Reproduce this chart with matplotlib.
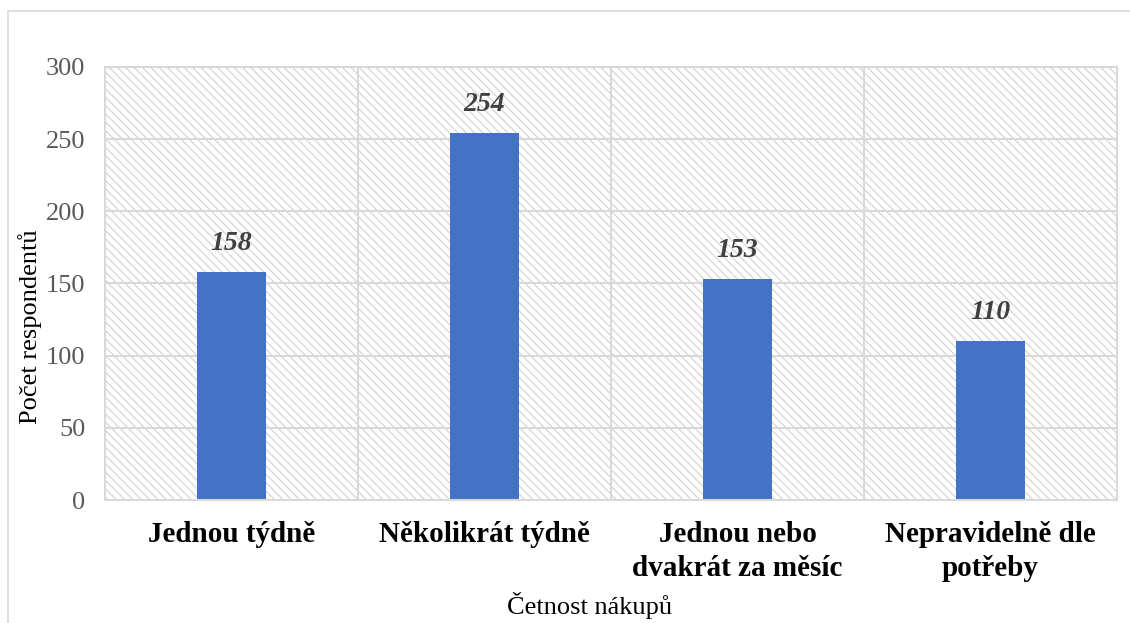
import matplotlib.pyplot as plt
from matplotlib.patches import Rectangle

categories = ["Jednou týdně", "Několikrát týdně", "Jednou nebo\ndvakrát za měsíc", "Nepravidelně dle\npotřeby"]
values = [158, 254, 153, 110]
yticks = [0, 50, 100, 150, 200, 250, 300]

plt.rcParams["hatch.linewidth"] = 0.9
plt.rcParams["hatch.color"] = "#d6d6d6"

fig = plt.figure(figsize=(11.3, 6.23), dpi=100)
ax = fig.add_axes([0.0929, 0.1974, 0.8956, 0.6951])

# outer chart frame
fig.patches.append(Rectangle((8 / 1130, -0.05), 1.2, 1 - 11 / 623 + 0.05, transform=fig.transFigure,
                             fill=False, edgecolor="#d9d9d9", linewidth=1.2))

x = range(len(categories))
ax.set_xlim(-0.5, len(categories) - 0.5)
ax.set_ylim(0, 300)

# hatched plot area background
ax.add_patch(Rectangle((0, 0), 1, 1, transform=ax.transAxes, facecolor="white",
                       hatch="\\" * 4, edgecolor="#d6d6d6", linewidth=0, zorder=0))

for y in yticks[1:]:
    ax.axhline(y, color="#d9d9d9", linewidth=1.5, zorder=1)
for b in [0.5, 1.5, 2.5]:
    ax.axvline(b, color="#d9d9d9", linewidth=1.5, zorder=1)

bars = ax.bar(x, values, width=0.27, color="#4472c4", zorder=2)
for xi, v in zip(x, values):
    ax.text(xi, v + 11, str(v), ha="center", va="bottom", fontsize=20,
            fontfamily="Liberation Serif", fontweight="bold", fontstyle="italic", color="#404040")

for s in ax.spines.values():
    s.set_color("#d9d9d9")
    s.set_linewidth(1.5)

ax.set_yticks(yticks)
ax.set_yticklabels([str(t) for t in yticks], fontfamily="Liberation Serif", fontsize=19, color="#595959")
ax.set_xticks(list(x))
ax.set_xticklabels(categories, fontfamily="Liberation Serif", fontsize=21, fontweight="bold",
                   color="black", linespacing=1.35)
ax.tick_params(axis="both", length=0)
ax.tick_params(axis="y", pad=14)
ax.tick_params(axis="x", pad=15)

ax.set_ylabel("Počet respondentů", fontfamily="Liberation Serif", fontsize=19, va="center")
ax.yaxis.set_label_coords(-0.074, 0.40)
ax.set_xlabel("Četnost nákupů", fontfamily="Liberation Serif", fontsize=19, va="center")
ax.xaxis.set_label_coords(0.479, -0.2425)

fig.savefig("out.png", dpi=100)
plt.close(fig)
